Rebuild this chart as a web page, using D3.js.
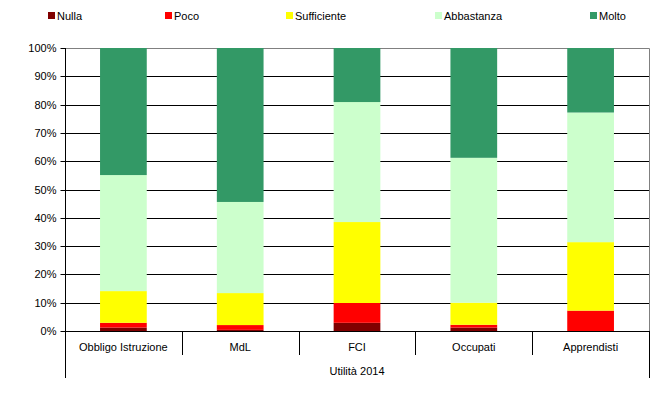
<!DOCTYPE html>
<html>
<head>
<meta charset="utf-8">
<script src="https://cdn.jsdelivr.net/npm/d3@7"></script>
<style>
  body { margin: 0; background: #fff; }
  svg text { font-family: "Liberation Sans", Arial, sans-serif; font-size: 11px; fill: #000; }
</style>
</head>
<body>
<div id="chart"></div>
<script>
const categories = ["Obbligo Istruzione", "MdL", "FCI", "Occupati", "Apprendisti"];
const seriesNames = ["Nulla", "Poco", "Sufficiente", "Abbastanza", "Molto"];
const seriesColors = ["#800000", "#FF0000", "#FFFF00", "#CCFFCC", "#339966"];

// percent shares per category, one array per series
const nulla       = [1.2, 0.4, 2.9, 1.2, 0.0];
const poco        = [1.7, 1.7, 7.0, 1.0, 7.2];
const sufficiente = [11.2, 11.3, 28.6, 7.8, 24.2];
const abbastanza  = [41.0, 32.2, 42.4, 51.2, 45.8];
const molto       = [44.9, 54.4, 19.1, 38.8, 22.8];

const yTicks = [0, 0.1, 0.2, 0.3, 0.4, 0.5, 0.6, 0.7, 0.8, 0.9, 1];
const groupLabel = "Utilità 2014";

const seriesValues = [nulla, poco, sufficiente, abbastanza, molto];
const table = categories.map((c, i) => {
  const row = { cat: c };
  seriesNames.forEach((s, j) => row[s] = seriesValues[j][i] / 100);
  return row;
});

const W = 664, H = 397;
const plotL = 65, plotR = 649, plotT = 48, plotB = 331;

const svg = d3.select("#chart").append("svg")
  .attr("width", W).attr("height", H);

const x = d3.scaleBand().domain(categories).range([plotL, plotR]);
const y = d3.scaleLinear().domain([0, 1]).range([plotB, plotT]);

// gridlines
svg.append("g").selectAll("line")
  .data(yTicks.filter(t => t > 0 && t < 1))
  .join("line")
  .attr("x1", plotL).attr("x2", plotR)
  .attr("y1", d => Math.round(y(d)) + 0.5).attr("y2", d => Math.round(y(d)) + 0.5)
  .attr("stroke", "#000");

// plot border top/right (gray)
svg.append("path")
  .attr("d", `M${plotL},${y(1) + 0.5}H${plotR + 0.5}V${plotB}`)
  .attr("fill", "none").attr("stroke", "#808080");

// stacked bars
const stack = d3.stack().keys(seriesNames)(table);
const barW = x.bandwidth() * 0.4;
svg.append("g").selectAll("g")
  .data(stack)
  .join("g")
  .attr("fill", (d, i) => seriesColors[i])
  .selectAll("rect")
  .data(d => d)
  .join("rect")
  .attr("x", d => x(d.data.cat) + (x.bandwidth() - barW) / 2)
  .attr("width", barW)
  .attr("y", d => y(d[1]))
  .attr("height", d => y(d[0]) - y(d[1]));

// y axis
const yAxis = svg.append("g")
  .attr("transform", `translate(${plotL + 0.5},0)`)
  .call(d3.axisLeft(y).tickValues(yTicks).tickFormat(d3.format(".0%")).tickSize(5).tickPadding(4));
yAxis.select(".domain").attr("d", `M0,${plotT}V${plotB}`).attr("stroke", "#000");
yAxis.selectAll(".tick").attr("transform", d => `translate(0,${Math.round(y(d)) + 0.5})`);
yAxis.selectAll(".tick line").attr("stroke", "#000");
yAxis.selectAll("text").attr("font-size", 11).attr("font-family", "Liberation Sans, Arial, sans-serif").attr("fill", "#000");

// x axis baseline
svg.append("line")
  .attr("x1", plotL).attr("x2", plotR + 1)
  .attr("y1", plotB + 0.5).attr("y2", plotB + 0.5)
  .attr("stroke", "#000");

// category separators
const bounds = categories.map(c => x(c)).concat([plotR]);
svg.append("g").selectAll("line")
  .data(bounds)
  .join("line")
  .attr("x1", d => Math.round(d) + 0.5).attr("x2", d => Math.round(d) + 0.5)
  .attr("y1", plotB)
  .attr("y2", (d, i) => (i === 0 || i === bounds.length - 1) ? 378 : 355)
  .attr("stroke", "#000");

// category labels
svg.append("g").selectAll("text")
  .data(categories)
  .join("text")
  .attr("x", d => x(d) + x.bandwidth() / 2)
  .attr("y", 351)
  .attr("text-anchor", "middle")
  .text(d => d);

svg.append("text")
  .attr("x", (plotL + plotR) / 2)
  .attr("y", 375)
  .attr("text-anchor", "middle")
  .text(groupLabel);

// legend
const legendX = [48, 165, 286, 435, 590];
const legend = svg.append("g").selectAll("g")
  .data(seriesNames)
  .join("g")
  .attr("transform", (d, i) => `translate(${legendX[i]},12)`);
legend.append("rect")
  .attr("width", 7).attr("height", 7)
  .attr("fill", (d, i) => seriesColors[i]);
legend.append("text")
  .attr("x", 9).attr("y", 8)
  .text(d => d);
</script>
</body>
</html>
